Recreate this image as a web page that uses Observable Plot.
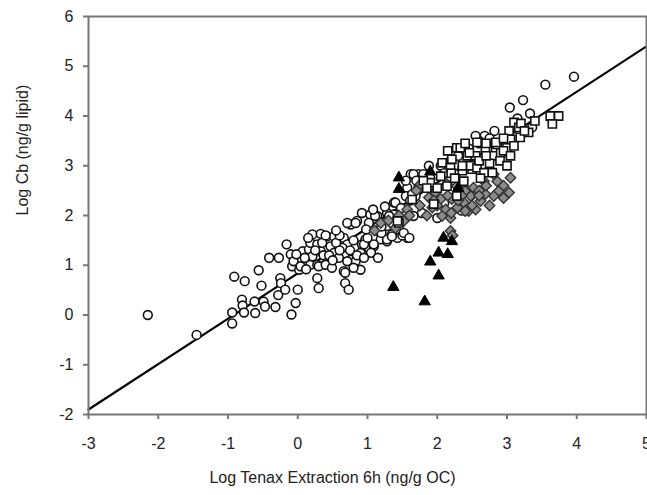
<!DOCTYPE html>
<html>
<head>
<meta charset="utf-8">
<script src="https://cdn.jsdelivr.net/npm/d3@7"></script>
<script src="https://cdn.jsdelivr.net/npm/@observablehq/plot@0.6"></script>
<style>
  html, body { margin: 0; padding: 0; background: #fff; }
  svg { display: block; }
</style>
</head>
<body>
<div id="chart"></div>
<script>
const xLabel = "Log Tenax Extraction 6h (ng/g OC)";
const yLabel = "Log Cb (ng/g lipid)";
const xTicks = [-3, -2, -1, 0, 1, 2, 3, 4, 5];
const yTicks = [-2, -1, 0, 1, 2, 3, 4, 5, 6];

// regression line end points
const fitX = [-3, 5];
const fitY = [-1.9, 5.4];

// open circles
const circles = [
  [-2.15,0.0],[-1.45,-0.4],
  [-0.94,0.05],[-0.94,-0.17],[-0.91,0.77],[-0.76,0.68],[-0.80,0.31],[-0.79,0.19],[-0.77,0.05],
  [-0.62,0.27],[-0.61,0.04],[-0.56,0.90],[-0.52,0.59],[-0.49,0.27],[-0.47,0.17],[-0.41,1.15],
  [-0.32,0.16],[-0.28,0.40],[-0.27,1.15],[-0.25,0.74],[-0.24,0.64],[-0.18,0.51],[-0.16,1.42],
  [-0.10,1.22],[-0.09,0.01],[-0.08,0.98],[-0.06,1.08],[-0.03,0.24],[0.0,0.51],[0.02,0.91],
  [0.04,0.98],[0.07,1.28],[0.16,1.32],[0.18,1.45],[0.18,1.01],[0.21,1.62],[0.21,1.18],
  [0.28,0.74],[0.30,0.54],[0.33,1.63],[0.42,1.58],[0.52,1.58],[0.66,1.55],[0.28,1.42],
  [0.33,1.28],[0.37,1.20],[0.47,1.38],[0.52,1.25],[0.59,1.15],[0.42,1.05],[0.28,1.01],
  [0.30,0.98],[0.40,1.01],[0.49,0.95],[0.66,0.88],[0.76,1.11],[0.90,1.25],[0.92,1.42],
  [1.02,1.35],[0.90,0.91],[0.71,1.42],[0.76,1.82],[0.85,1.89],[0.92,2.05],[1.04,2.02],
  [1.14,1.99],[1.14,1.69],[1.19,1.52],[1.28,1.48],[1.09,1.38],[0.97,1.52],[1.28,2.05],
  [1.02,1.85],[0.64,1.35],[1.57,1.55],[1.43,1.55],[1.28,1.52],[1.09,1.42],[0.95,1.42],
  [0.68,0.85],[0.68,0.64],[0.73,0.51],[0.83,1.08],[0.71,1.08],[0.71,1.85],[0.83,1.85],
  [1.38,2.26],[1.57,2.56],[1.73,2.56],[1.62,2.83],[1.73,2.83],[1.88,3.0],[2.05,3.0],
  [2.19,3.1],[1.38,2.02],[1.55,2.39],[1.69,2.39],[1.20,1.65],[1.35,1.62],[1.50,1.60],
  [1.66,2.83],[1.80,2.83],[1.64,2.43],[1.61,2.30],[1.40,2.26],[1.52,2.05],[1.78,2.05],
  [1.66,1.99],[1.31,1.99],[1.11,1.99],[1.28,1.79],[1.52,1.65],[1.35,1.58],[1.60,1.55],
  [1.95,2.45],[2.10,2.25],[2.00,1.95],[2.35,2.10],[2.26,2.83],
  [2.60,3.45],[2.68,3.60],[2.82,3.70],[3.04,4.17],[3.23,4.32],[3.33,4.05],[3.55,4.63],
  [3.96,4.79],[3.36,3.77],[2.60,3.50],
  [0.10,1.15],[0.25,1.30],[0.35,1.45],[0.45,1.20],[0.55,1.45],[0.60,1.30],[0.50,1.10],
  [0.15,1.55],[0.40,1.60],[0.75,1.30],[0.80,1.50],[0.85,1.20],[1.00,1.55],[1.05,1.25],
  [1.15,1.15],[0.60,1.60],[0.95,1.15],[0.80,0.95],[0.12,0.92],[-0.02,1.22],[1.20,1.78],
  [1.35,1.85],[1.48,2.15],[1.25,2.18],[1.70,2.70],[1.55,2.70],[1.90,2.75],[2.10,2.85],
  [2.30,3.20],[2.45,3.35],[2.55,3.60],[2.75,3.55],[3.15,3.95],[1.08,2.12],[0.55,1.70],
  [0.98,1.72]
];

// open squares
const squares = [
  [2.28,3.36],[2.33,3.36],[2.43,3.20],[2.55,3.20],[2.72,3.36],[2.86,3.43],[3.00,3.36],
  [2.81,3.20],[2.36,2.90],[2.50,2.93],[2.79,2.86],[3.62,4.00],[3.74,4.00],[3.65,3.84],
  [3.10,3.87],[3.17,3.77],[3.03,3.70],[3.19,3.57],[3.05,3.53],[3.31,3.67],[2.84,3.47],
  [2.69,3.33],[2.91,3.26],[2.57,3.47],[2.46,3.26],[2.21,3.13],[2.07,3.06],[2.36,3.00],
  [2.48,3.00],[1.90,2.66],[2.05,2.79],[1.45,1.85],[1.64,2.32],[2.19,2.96],[2.57,2.96],
  [2.14,2.59],[2.38,2.69],[2.67,2.86],[2.28,2.39],[1.43,1.89],[1.95,2.23],[2.62,2.75],
  [2.00,2.55],[1.80,2.70],[3.10,3.40],[2.95,3.55],[3.40,3.90],
  [2.60,3.10],[2.75,3.05],[2.90,3.10],[2.95,3.30],[3.05,3.20],[2.20,2.85],[2.15,3.30],
  [2.40,3.45],[2.70,3.45],[3.20,3.85],[3.00,3.00],[1.85,2.55],[2.25,2.75],[2.70,3.20],
  [3.25,3.70]
];

// grey diamonds
const diamonds = [
  [1.76,2.63],[1.97,2.46],[2.14,2.63],[2.31,2.56],[2.43,2.49],[2.52,2.43],[1.88,2.36],
  [2.05,2.33],[2.21,2.33],[2.38,2.26],[1.93,2.16],[2.12,2.12],[2.29,2.16],[2.45,2.09],
  [2.07,1.99],[2.19,1.95],[1.70,2.50],[1.57,2.12],[1.19,1.85],[1.52,1.89],[2.19,1.69],
  [3.05,2.76],[3.03,2.46],[2.86,2.69],[2.81,2.83],[2.67,2.69],[2.88,2.49],[2.81,2.39],
  [2.69,2.43],[2.52,2.56],[2.40,2.49],[2.28,2.59],[2.48,2.39],[2.62,2.29],[2.55,2.12],
  [2.40,2.09],[2.50,2.20],[1.30,1.90],[1.60,2.00],[1.75,2.20],[2.22,1.60],
  [1.10,1.70],[1.40,1.75],[1.85,2.00],[2.00,2.20],[2.15,2.40],[2.35,2.40],[2.60,2.50],
  [2.70,2.60],[2.95,2.60],[2.95,2.35],[2.75,2.20],[2.30,2.30],[1.95,2.30],[2.60,2.40],
  [2.20,2.05],[1.45,2.00]
];

// black triangles
const triangles = [
  [1.45,2.76],[1.45,2.53],[2.09,1.55],[2.21,1.48],[2.02,1.25],[2.15,1.22],[1.90,1.07],
  [2.02,0.79],[1.37,0.56],[1.82,0.27],[1.90,2.88],[2.30,2.55]
];

const fit = fitX.map((x, i) => ({x, y: fitY[i]}));
const font = "'Liberation Sans', Arial, sans-serif";

const chart = Plot.plot({
  width: 647,
  height: 495,
  marginLeft: 88,
  marginTop: 16,
  marginRight: 1,
  marginBottom: 81,
  style: {fontFamily: font, fontSize: "16px", color: "#222", background: "#fff"},
  x: {domain: [-3, 5]},
  y: {domain: [-2, 6]},
  marks: [
    Plot.axisX({ticks: xTicks, tickFormat: d => String(d), tickSize: 5, tickPadding: 18, label: null, stroke: "#777", strokeWidth: 2, fontSize: 16}),
    Plot.axisY({ticks: yTicks, tickFormat: d => String(d), tickSize: 5, tickPadding: 10, label: null, stroke: "#777", strokeWidth: 2, fontSize: 16}),
    Plot.line(fit, {x: "x", y: "y", stroke: "#000", strokeWidth: 2.2}),
    Plot.dot(circles, {x: d => d[0], y: d => d[1], r: 4.4, symbol: "circle", fill: "#fff", stroke: "#111", strokeWidth: 1.6}),
    Plot.dot(diamonds, {x: d => d[0], y: d => d[1], r: 4.7, symbol: "diamond2", fill: "#8c8c8c", stroke: "#333", strokeWidth: 1.4}),
    Plot.dot(squares, {x: d => d[0], y: d => d[1], r: 4.6, symbol: "square", fill: "#fff", stroke: "#111", strokeWidth: 1.6}),
    Plot.dot(triangles, {x: d => d[0], y: d => d[1], r: 4.2, symbol: "triangle", fill: "#000", stroke: "#000", strokeWidth: 1}),
    Plot.frame({stroke: "#777", strokeWidth: 2}),
    Plot.text([xLabel], {frameAnchor: "bottom", dx: -35, dy: 63, lineAnchor: "middle", text: d => d, fontSize: 16, fill: "#222"}),
    Plot.text([yLabel], {frameAnchor: "left", dx: -66, rotate: -90, lineAnchor: "middle", text: d => d, fontSize: 16, fill: "#222"})
  ]
});
document.getElementById("chart").appendChild(chart);
</script>
</body>
</html>
